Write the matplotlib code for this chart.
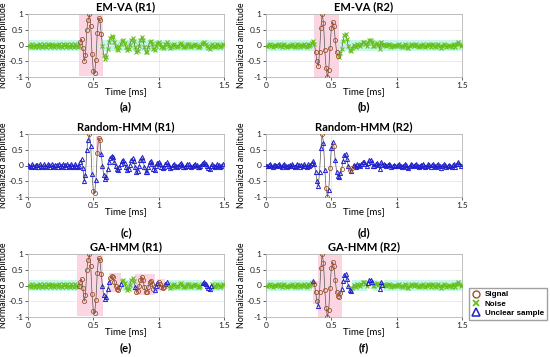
import numpy as np
import matplotlib
matplotlib.use("Agg")
import matplotlib.pyplot as plt
from matplotlib.patches import Rectangle
from matplotlib.lines import Line2D

# Datos: una muestra cada 0.01 ms (0 .. 1.5 ms)
dt = 0.01

# Forma de onda normalizada, registro R1
wave_r1 = [0.03, -0.03, -0.05, 0.04, -0.01, -0.05, 0.03, 0.02, -0.04, 0.05,
           -0.02, -0.05, 0.04, 0.0, -0.05, 0.04, 0.01, -0.04, 0.05, -0.02,
           -0.05, 0.03, 0.02, -0.04, 0.05, -0.01, -0.05, 0.04, 0.01, -0.05,
           0.04, -0.01, -0.05, 0.05, 0.0, -0.04, 0.05, -0.02, -0.06, -0.02,
           0.12, 0.2, -0.08, -0.5, -0.3, 0.48, 0.82, 1.0, 0.62, -0.28,
           -0.8, -0.88, -0.45, 0.4, 0.87, 0.8, 0.38, -0.02, -0.3, -0.42,
           -0.38, -0.12, 0.1, 0.25, 0.31, 0.27, 0.12, -0.02, -0.12, -0.14,
           -0.05, 0.06, 0.15, 0.17, 0.08, -0.06, -0.15, -0.12, 0.02, 0.16,
           0.23, 0.14, -0.05, -0.2, -0.18, -0.03, 0.16, 0.28, 0.19, -0.04,
           -0.22, -0.2, -0.04, 0.12, 0.15, 0.04, -0.1, -0.13, -0.03, 0.09,
           0.12, 0.05, -0.04, -0.09, -0.05, 0.04, 0.1, 0.06, -0.03, -0.08,
           -0.04, 0.03, 0.05, 0.0, -0.05, -0.03, 0.04, 0.07, 0.02, -0.04,
           -0.06, -0.01, 0.05, 0.04, -0.02, -0.06, -0.03, 0.03, 0.06, 0.02,
           -0.04, -0.05, 0.0, 0.05, 0.08, 0.1, 0.06, -0.02, -0.07, -0.1,
           -0.02, 0.04, -0.03, -0.06, 0.0, 0.05, 0.02, -0.04, -0.02, 0.04,
           0.02]

# Forma de onda normalizada, registro R2
wave_r2 = [0.0, -0.03, 0.02, 0.04, -0.02, -0.05, 0.01, 0.03, -0.03, 0.02,
           0.05, -0.01, -0.04, 0.02, 0.04, -0.03, -0.06, 0.0, 0.03, -0.02,
           0.04, 0.0, -0.05, -0.02, 0.05, 0.02, -0.04, 0.03, -0.03, 0.06,
           0.0, -0.05, 0.04, -0.02, 0.02, 0.08, 0.14, 0.05, -0.2, -0.5,
           -0.65, -0.2, 0.55, 1.0, 0.72, -0.15, -0.72, -1.0, -0.78, -0.08,
           0.55, 0.75, 0.62, 0.18, -0.2, -0.32, -0.35, -0.25, -0.1, 0.15,
           0.32, 0.36, 0.2, -0.02, -0.15, -0.18, -0.08, 0.03, 0.0, -0.05,
           0.04, 0.02, -0.03, 0.05, 0.1, 0.12, 0.06, -0.03, 0.08, 0.17,
           0.18, 0.1, -0.02, -0.03, 0.04, 0.08, 0.03, -0.12, 0.12, 0.02,
           0.05, 0.01, -0.03, 0.02, 0.06, 0.02, -0.04, -0.02, 0.03, 0.0,
           -0.03, 0.02, 0.04, 0.0, -0.04, -0.02, 0.05, 0.03, -0.05, -0.08,
           -0.02, 0.04, 0.02, -0.03, 0.03, 0.05, -0.02, -0.06, -0.03, 0.03,
           0.06, 0.0, -0.05, -0.02, 0.04, 0.02, -0.04, 0.03, 0.05, -0.01,
           -0.05, 0.02, 0.04, -0.02, -0.07, 0.0, 0.05, 0.01, -0.05, -0.03,
           0.03, -0.02, -0.06, 0.02, 0.05, -0.04, 0.04, 0.12, 0.06, -0.02,
           0.02]

# Clasificacion por tramos: (clase, numero de muestras)
# S = senal, N = ruido, U = muestra dudosa
runs_a = [("N", 40), ("S", 17), ("N", 94)]
runs_b = [("N", 38), ("S", 18), ("N", 95)]
runs_c = [("U", 47), ("S", 1), ("U", 2), ("S", 2), ("U", 1), ("S", 3),
          ("U", 94), ("N", 1)]
runs_d = [("U", 43), ("S", 1), ("U", 2), ("S", 2), ("U", 1), ("S", 1),
          ("U", 2), ("S", 1), ("U", 5), ("S", 1), ("U", 5), ("S", 1),
          ("U", 1), ("S", 1), ("U", 83), ("N", 1)]
runs_e = [("N", 39), ("S", 18), ("U", 6), ("S", 8), ("U", 1), ("N", 10),
          ("U", 1), ("S", 14), ("U", 3), ("S", 5), ("U", 2), ("N", 27),
          ("U", 7), ("N", 10)]
runs_f = [("N", 36), ("U", 1), ("S", 3), ("U", 1), ("S", 17), ("U", 8),
          ("N", 12), ("U", 4), ("N", 5), ("U", 3), ("N", 61)]

titles = ["EM-VA (R1)", "EM-VA (R2)", "Random-HMM (R1)", "Random-HMM (R2)",
          "GA-HMM (R1)", "GA-HMM (R2)"]
tags = ["(a)", "(b)", "(c)", "(d)", "(e)", "(f)"]
waves = [wave_r1, wave_r2, wave_r1, wave_r2, wave_r1, wave_r2]
runs = [runs_a, runs_b, runs_c, runs_d, runs_e, runs_f]

c_sig = "#a0522d"
c_noise = "#66c21a"
c_unc = "#1f1fd0"
c_pink = "#fbd5e2"
c_cyan = "#c4f6ec"

plt.rcParams["font.family"] = ["Lato", "DejaVu Sans"]

fig = plt.figure(figsize=(5.5, 3.57), dpi=100)

W, H = 550.0, 357.0
col_x = [28, 266]
row_top = [14, 134, 254]
ax_w, ax_h = 196, 63

for k in range(6):
    row, col = k // 2, k % 2
    x0 = col_x[col]
    y0 = row_top[row]
    ax = fig.add_axes([x0 / W, 1 - (y0 + ax_h) / H, ax_w / W, ax_h / H])

    y = np.array(waves[k])
    t = np.arange(len(y)) * dt
    cls = np.array([c for c, n in runs[k] for _ in range(n)])

    # sombreado de los tramos
    i = 0
    for c, n in runs[k]:
        seg = y[i:i + n]
        if c == "S" and n >= 3:
            lo, hi = seg.min() - 0.08, seg.max() + 0.08
            ax.add_patch(Rectangle((t[i] - 0.012, lo), (n - 1) * dt + 0.024,
                                   hi - lo, color=c_pink, lw=0, zorder=0))
        elif c == "N":
            ax.add_patch(Rectangle((t[i], -0.18), (n - 1) * dt, 0.36,
                                   color=c_cyan, lw=0, zorder=0))
        i += n

    ax.plot(t, y, color="#555555", lw=0.5, zorder=2)
    m = cls == "N"
    ax.plot(t[m], y[m], ls="none", marker="x", ms=2.3, mew=0.8,
            color=c_noise, zorder=3)
    m = cls == "U"
    ax.plot(t[m], y[m], ls="none", marker="^", ms=3.0, mew=0.7,
            mfc="none", mec=c_unc, zorder=3)
    m = cls == "S"
    ax.plot(t[m], y[m], ls="none", marker="o", ms=3.0, mew=0.6,
            mfc="none", mec=c_sig, zorder=4)

    ax.set_xlim(0, 1.5)
    ax.set_ylim(-1, 1)
    ax.set_xticks([0, 0.5, 1, 1.5])
    ax.set_xticklabels(["0", "0.5", "1", "1.5"])
    ax.set_yticks([-1, -0.5, 0, 0.5, 1])
    ax.set_yticklabels(["-1", "-0.5", "0", "0.5", "1"])
    ax.tick_params(labelsize=6, length=2, width=0.5, pad=1.5, colors="#222222")
    ax.grid(True, color="#e3e3e3", lw=0.5)
    ax.set_axisbelow(True)
    for s in ax.spines.values():
        s.set_color("#b5b5b5")
        s.set_linewidth(0.6)

    ax.set_title(titles[k], fontsize=8, fontweight="bold", pad=3)
    ax.set_xlabel("Time [ms]", fontsize=7, labelpad=-1)
    ax.set_ylabel("Normalized amplitude", fontsize=6.4, labelpad=0.5)

    tag_y = [107, 233, 348][row]
    fig.text((x0 + ax_w / 2) / W, 1 - tag_y / H, tags[k], fontsize=8,
             fontweight="bold", ha="center", va="center")

handles = [
    Line2D([], [], ls="none", marker="o", ms=5, mew=1, mfc="none", mec=c_sig),
    Line2D([], [], ls="none", marker="x", ms=5, mew=1.3, color=c_noise),
    Line2D([], [], ls="none", marker="^", ms=5.5, mew=1.1, mfc="none", mec=c_unc),
]
fig.legend(handles, ["Signal", "Noise", "Unclear sample"],
           loc="upper left", bbox_to_anchor=(469 / W, 1 - 288 / H),
           prop={"family": "Liberation Sans", "weight": "bold", "size": 5.8},
           frameon=True, fancybox=False, edgecolor="#888888",
           handlelength=1.0, handletextpad=0.6, borderpad=0.35,
           labelspacing=0.2, borderaxespad=0)

fig.savefig("out.png", dpi=100)
